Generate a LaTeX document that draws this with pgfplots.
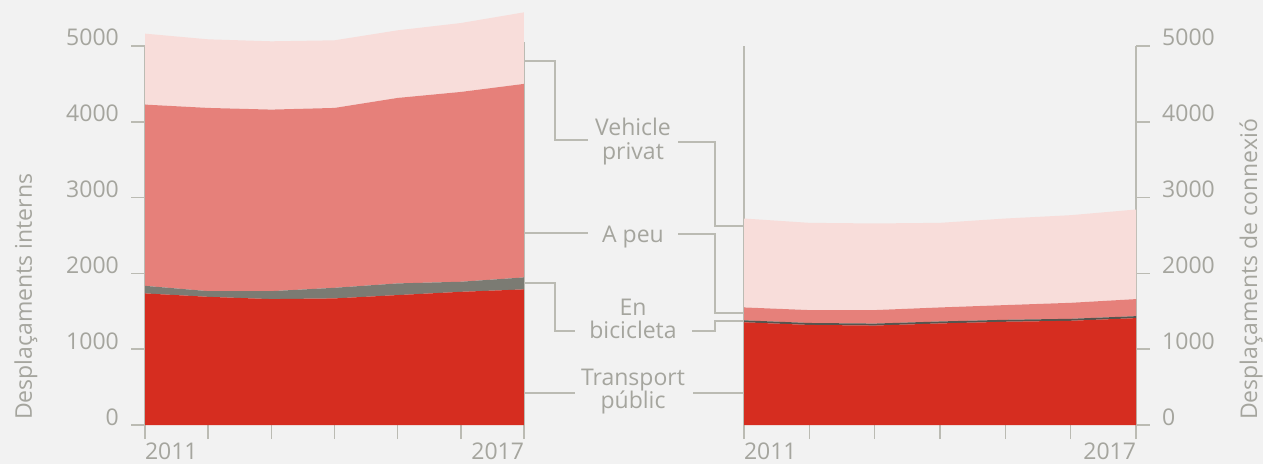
\documentclass[border=0pt]{standalone}
\usepackage{pgfplots}
\pgfplotsset{compat=1.18}
\usepackage{fontspec}
\setmainfont{Open Sans}
\definecolor{bg}{HTML}{F2F2F2}
\definecolor{cvp}{HTML}{F8DDDA}
\definecolor{cap}{HTML}{E6807A}
\definecolor{cbi}{HTML}{7B7B73}
\definecolor{cbi2}{HTML}{55554F}
\definecolor{ctp}{HTML}{D62D20}
\definecolor{txt}{HTML}{A5A59E}
\definecolor{lin}{HTML}{BBBBB3}
\newcommand{\tfont}{\fontsize{23}{23}\selectfont}
\pgfplotsset{
  common/.style={
    scale only axis, height=379pt,
    xmin=2011, xmax=2017, ymin=0, ymax=5000, clip=false,
    axis line style={draw=none},
    xtick={2011,2012,2013,2014,2015,2016,2017},
    xticklabels={\makebox[0pt][l]{2011},,,,,,\makebox[0pt][r]{2017}},
    ytick={0,1000,2000,3000,4000,5000},
    yticklabels={0,1000,2000,3000,4000,5000},
    tick align=outside,
    major tick length=14pt,
    tick style={draw=lin, line width=1.5pt},
    xtick pos=bottom,
    ticklabel style={font=\tfont, text=txt, inner sep=0pt},
    xticklabel style={anchor=north, yshift=-4pt},
    stack plots=y,
  }
}
\begin{document}
\begin{tikzpicture}[x=1pt,y=1pt]
\fill[bg] (0,0) rectangle (1263,464);
\useasboundingbox (0,0) rectangle (1263,464);

% Left chart: Desplaçaments interns
\begin{axis}[common, at={(145pt,39pt)}, anchor=south west, width=379pt,
  ytick pos=left, yticklabel style={anchor=base east, xshift=-12pt}]
\addplot[fill=ctp, draw=none] coordinates {(2011,1736) (2012,1691) (2013,1661) (2014,1670) (2015,1714) (2016,1757) (2017,1789)} \closedcycle;
\addplot[fill=cbi, draw=none] coordinates {(2011,100) (2012,75) (2013,105) (2014,140) (2015,154) (2016,133) (2017,158)} \closedcycle;
\addplot[fill=cap, draw=none] coordinates {(2011,2391) (2012,2417) (2013,2395) (2014,2373) (2015,2447) (2016,2504) (2017,2553)} \closedcycle;
\addplot[fill=cvp, draw=none] coordinates {(2011,936) (2012,905) (2013,901) (2014,892) (2015,892) (2016,909) (2017,944)} \closedcycle;
\draw[lin, line width=1.5pt] (axis cs:2011,0) -- (axis cs:2011,5000);
\draw[lin, line width=1.5pt] (axis cs:2017,0) -- (axis cs:2017,5050);
\end{axis}

% Right chart: Desplaçaments de connexió
\begin{axis}[common, at={(744pt,39pt)}, anchor=south west, width=392pt,
  ytick pos=right, yticklabel style={anchor=base west, xshift=12pt}]
\addplot[fill=ctp, draw=none] coordinates {(2011,1355) (2012,1320) (2013,1312) (2014,1340) (2015,1362) (2016,1375) (2017,1410)} \closedcycle;
\addplot[fill=cbi2, draw=none] coordinates {(2011,26) (2012,26) (2013,26) (2014,26) (2015,26) (2016,26) (2017,26)} \closedcycle;
\addplot[fill=cap, draw=none] coordinates {(2011,170) (2012,170) (2013,178) (2014,185) (2015,194) (2016,211) (2017,225)} \closedcycle;
\addplot[fill=cvp, draw=none] coordinates {(2011,1173) (2012,1151) (2013,1143) (2014,1116) (2015,1142) (2016,1156) (2017,1182)} \closedcycle;
\draw[lin, line width=1.5pt] (axis cs:2011,0) -- (axis cs:2011,5000);
\draw[lin, line width=1.5pt] (axis cs:2017,0) -- (axis cs:2017,5000);
\end{axis}

% Axis titles
\node[rotate=90, anchor=base west, inner sep=0pt, font=\tfont, text=txt] at (32,44) {Desplaçaments interns};
\node[rotate=90, anchor=base west, inner sep=0pt, font=\tfont, text=txt] at (1257,44) {Desplaçaments de connexió};

% Connectors
\begin{scope}[lin, line width=1.5pt]
\draw (524,403) -- (555,403) -- (555,324) -- (588,324);
\draw (678,322) -- (715,322) -- (715,238) -- (744,238);
\draw (524,231) -- (588,231);
\draw (678,230) -- (715,230) -- (715,151) -- (744,151);
\draw (524,181) -- (555,181) -- (555,133) -- (575,133);
\draw (692,133) -- (715,133) -- (715,143) -- (744,143);
\draw (524,71) -- (575,71);
\draw (693,71) -- (744,71);
\end{scope}

% Category labels
\begin{scope}[every node/.style={anchor=base, inner sep=0pt, font=\tfont, text=txt}]
\node at (633,328) {Vehicle};
\node at (633,304) {privat};
\node at (633,222) {A peu};
\node at (633,149) {En};
\node at (633,126) {bicicleta};
\node at (633,79) {Transport};
\node at (633,56) {públic};
\end{scope}
\end{tikzpicture}
\end{document}
